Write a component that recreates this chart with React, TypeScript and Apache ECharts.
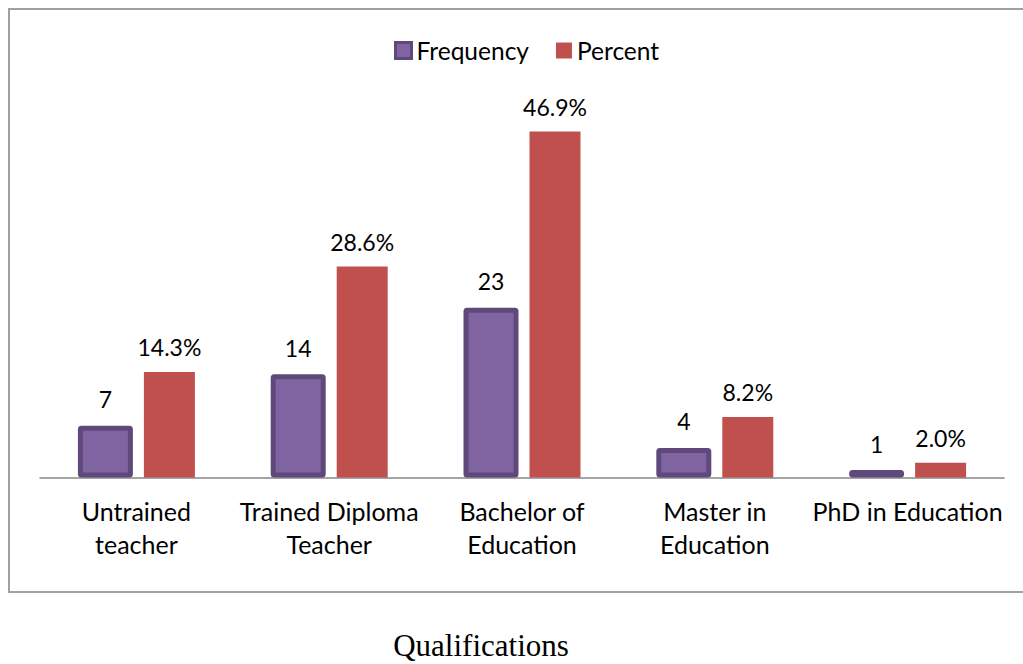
import React, { useEffect, useRef } from "react";
import * as echarts from "echarts";

const categories = [
  "Untrained\nteacher",
  "Trained Diploma\nTeacher",
  "Bachelor of\nEducation",
  "Master in\nEducation",
  "PhD in Education",
];
const frequency = [7, 14, 23, 4, 1];
const percent = [14.3, 28.6, 46.9, 8.2, 2.0];
const seriesNames = ["Frequency", "Percent"];
const xTitle = "Qualifications";

const FONT = "Lato, 'Open Sans', sans-serif";

export default function App() {
  const ref = useRef<HTMLDivElement>(null);
  useEffect(() => {
    if (!ref.current) return;
    const chart = echarts.init(ref.current, null, { renderer: "svg" });
    chart.setOption({
      animation: false,
      backgroundColor: "#ffffff",
      textStyle: { fontFamily: FONT },
      legend: {
        left: 394,
        top: 38,
        padding: 0,
        itemWidth: 16,
        itemHeight: 16,
        itemGap: 27,
        textStyle: { fontSize: 24.5, color: "#000", fontFamily: FONT },
        data: [
          {
            name: seriesNames[0],
            icon: "rect",
            itemStyle: { color: "#8064a2", borderColor: "#5f497a", borderWidth: 3 },
          },
          { name: seriesNames[1], icon: "rect" },
        ],
      },
      grid: { left: 40, right: 19, top: 108.5, bottom: 186.5 },
      xAxis: {
        type: "category",
        data: categories,
        axisLine: { lineStyle: { color: "#868686", width: 1.5 } },
        axisTick: { show: false },
        axisLabel: {
          color: "#000",
          fontSize: 25,
          lineHeight: 33,
          margin: 17,
          fontFamily: FONT,
          interval: 0,
        },
      },
      yAxis: {
        type: "value",
        min: 0,
        max: 50,
        show: false,
        splitLine: { show: false },
      },
      series: [
        {
          name: seriesNames[0],
          type: "bar",
          data: frequency,
          barWidth: 55,
          barGap: "20%",
          itemStyle: { color: "#8064a2", borderColor: "#5f497a", borderWidth: 5, borderRadius: 1 },
          label: {
            show: true,
            position: "top",
            distance: 15,
            color: "#000",
            fontSize: 23,
            fontFamily: FONT,
          },
        },
        {
          name: seriesNames[1],
          type: "bar",
          data: percent,
          barWidth: 51,
          barGap: "20%",
          itemStyle: { color: "#c0504d" },
          label: {
            show: true,
            position: "top",
            distance: 13,
            color: "#000",
            fontSize: 23,
            fontFamily: FONT,
            formatter: (p: any) => Number(p.value).toFixed(1) + "%",
          },
        },
      ],
      graphic: [
        {
          type: "rect",
          shape: { x: 9, y: 9, width: 1040, height: 583 },
          style: { fill: "none", stroke: "#a0a0a0", lineWidth: 2 },
          silent: true,
          z: -1,
        },
        {
          type: "text",
          x: 481,
          y: 645,
          style: {
            text: xTitle,
            fill: "#000",
            font: "31px 'Liberation Serif', 'Times New Roman', serif",
            textAlign: "center",
            textVerticalAlign: "middle",
          },
        },
      ],
    });
    return () => chart.dispose();
  }, []);
  return (
    <div
      ref={ref}
      style={{ position: "absolute", left: 0, top: 0, width: 1023, height: 664 }}
    />
  );
}
